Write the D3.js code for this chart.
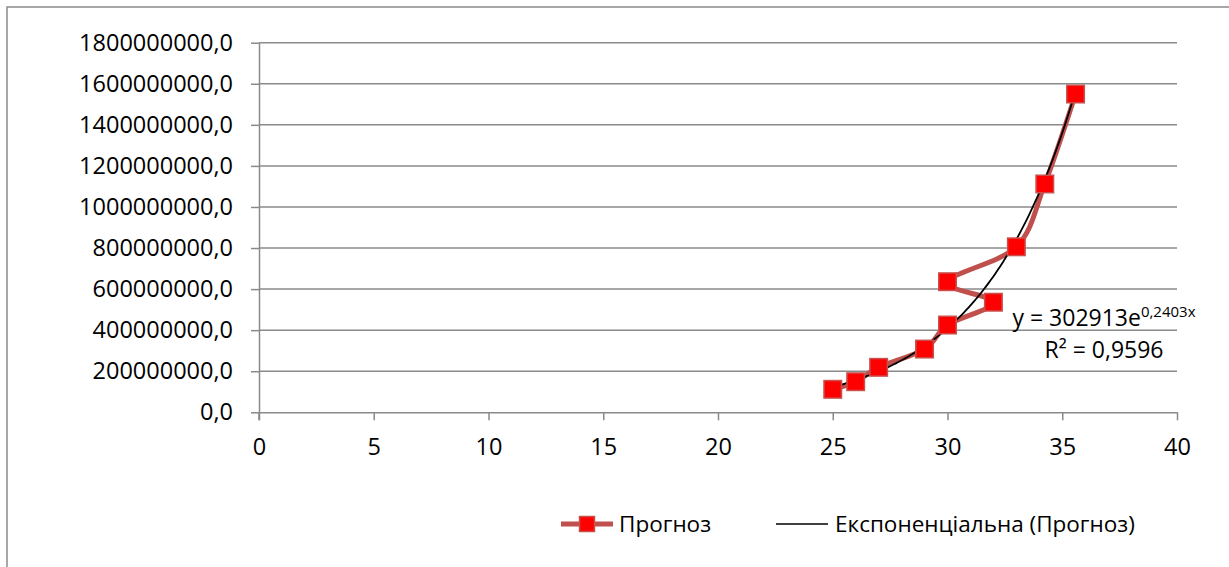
<!DOCTYPE html>
<html>
<head>
<meta charset="utf-8">
<script src="https://cdn.jsdelivr.net/npm/d3@7"></script>
<style>
  html, body { margin: 0; padding: 0; background: #fff; }
  svg { display: block; }
  text { font-family: "Open Sans", "Noto Sans", sans-serif; fill: #000; }
</style>
</head>
<body>
<svg id="chart" width="1229" height="567"></svg>
<script>
// ---- data ----
const xValues = [25, 26, 27, 29, 30, 32, 30, 33, 34.24, 35.58];
const yValues = [112e6, 149e6, 219e6, 308e6, 425e6, 536e6, 636e6, 806e6, 1112e6, 1550e6];
const xTicks = [0, 5, 10, 15, 20, 25, 30, 35, 40];
const yTicks = [0, 2e8, 4e8, 6e8, 8e8, 10e8, 12e8, 14e8, 16e8, 18e8];
const seriesName = "Прогноз";
const trendName = "Експоненціальна (Прогноз)";
// trendline coefficients as shown on the chart
const trendA = 302913;
const trendB = 0.2403;
const trendR2 = "0,9596";

const svg = d3.select("#chart");
const W = 1229, H = 567;

svg.append("rect").attr("x", 0).attr("y", 0).attr("width", W).attr("height", H).attr("fill", "#fff");
// chart frame (extends past the viewport on right/bottom)
svg.append("rect").attr("x", 7).attr("y", 7).attr("width", 1260).attr("height", 600)
  .attr("fill", "none").attr("stroke", "#8a8a8a").attr("stroke-width", 1.5);

const x = d3.scaleLinear().domain([0, 40]).range([259, 1177]);
const y = d3.scaleLinear().domain([0, 1.8e9]).range([412.3, 42.7]);

const gridColor = "#8a8a8a";

// gridlines
svg.append("g").selectAll("line").data(yTicks.filter(v => v > 0)).join("line")
  .attr("x1", x(0)).attr("x2", x(40))
  .attr("y1", d => y(d)).attr("y2", d => y(d))
  .attr("stroke", gridColor).attr("stroke-width", 1.5);

const fmtY = v => v.toFixed(1).replace(".", ",");

const yAxis = d3.axisLeft(y).tickValues(yTicks).tickFormat(fmtY).tickSize(8).tickSizeOuter(0).tickPadding(18);
const gy = svg.append("g").attr("transform", `translate(${x(0)},0)`).call(yAxis);
gy.select(".domain").attr("stroke", gridColor).attr("stroke-width", 1.5);
gy.selectAll(".tick line").attr("stroke", gridColor).attr("stroke-width", 1.5);
gy.selectAll(".tick text").style("font-size", "23.5px").style("font-family", "'Open Sans', sans-serif");

const xAxis = d3.axisBottom(x).tickValues(xTicks).tickFormat(d3.format("d")).tickSize(8).tickSizeOuter(0).tickPadding(18);
const gx = svg.append("g").attr("transform", `translate(0,${y(0)})`).call(xAxis);
gx.select(".domain").attr("stroke", gridColor).attr("stroke-width", 1.5);
gx.selectAll(".tick line").attr("stroke", gridColor).attr("stroke-width", 1.5);
gx.selectAll(".tick text").style("font-size", "23.5px").style("font-family", "'Open Sans', sans-serif");

// vertical axis extends down through the x tick at 0
svg.append("line").attr("x1", x(0)).attr("x2", x(0)).attr("y1", y(0)).attr("y2", y(0) + 8)
  .attr("stroke", gridColor).attr("stroke-width", 1.5);

const pts = xValues.map((v, i) => [v, yValues[i]]);
const lineColor = "#C0504D";

// smoothed series line
const line = d3.line().x(d => x(d[0])).y(d => y(d[1])).curve(d3.curveCardinal.tension(0));
svg.append("path").datum(pts).attr("d", line)
  .attr("fill", "none").attr("stroke", lineColor).attr("stroke-width", 5)
  .attr("stroke-linejoin", "round").attr("stroke-linecap", "round");

// trendline (exponential) over the data's x range
const xMin = d3.min(xValues), xMax = d3.max(xValues);
const trendPts = d3.range(0, 101).map(i => {
  const xv = xMin + (xMax - xMin) * i / 100;
  return [xv, trendA * Math.exp(trendB * xv)];
});
svg.append("path").datum(trendPts).attr("d", d3.line().x(d => x(d[0])).y(d => y(d[1])))
  .attr("fill", "none").attr("stroke", "#000").attr("stroke-width", 1.8);

// markers
const ms = 17.5;
svg.append("g").selectAll("rect").data(pts).join("rect")
  .attr("x", d => x(d[0]) - ms / 2).attr("y", d => y(d[1]) - ms / 2)
  .attr("width", ms).attr("height", ms)
  .attr("fill", "#FF0000").attr("stroke", "#C8504D").attr("stroke-width", 1.5);

// trendline equation label
const eq = svg.append("text").attr("x", 1104).attr("y", 326).attr("text-anchor", "middle")
  .style("font-size", "23px");
eq.append("tspan").text("y = " + trendA + "e");
eq.append("tspan").attr("dy", -9).style("font-size", "15px").text(String(trendB).replace(".", ",") + "x");
svg.append("text").attr("x", 1104).attr("y", 358).attr("text-anchor", "middle")
  .style("font-size", "23px").text("R² = " + trendR2);

// legend
const ly = 524;
svg.append("line").attr("x1", 561).attr("x2", 613).attr("y1", ly).attr("y2", ly)
  .attr("stroke", lineColor).attr("stroke-width", 5);
svg.append("rect").attr("x", 587 - 7.5).attr("y", ly - 7.5).attr("width", 15).attr("height", 15)
  .attr("fill", "#FF0000").attr("stroke", "#C8504D").attr("stroke-width", 1.5);
svg.append("text").attr("x", 619).attr("y", ly).attr("dy", "0.35em")
  .style("font-size", "22.5px").text(seriesName);
svg.append("line").attr("x1", 776).attr("x2", 828).attr("y1", ly).attr("y2", ly)
  .attr("stroke", "#000").attr("stroke-width", 1.6);
svg.append("text").attr("x", 835).attr("y", ly).attr("dy", "0.35em")
  .style("font-size", "22.5px").text(trendName);
</script>
</body>
</html>
